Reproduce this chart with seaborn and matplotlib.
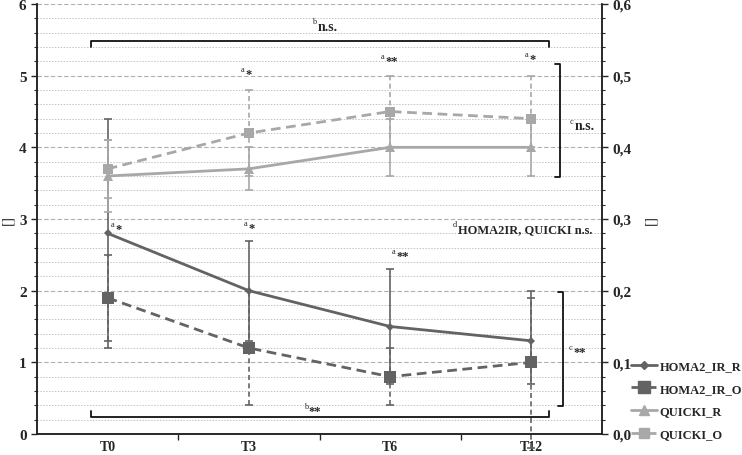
import numpy as np
import pandas as pd
import matplotlib
matplotlib.use('Agg')
import matplotlib.pyplot as plt
import seaborn as sns
from matplotlib.ticker import MultipleLocator, FuncFormatter
from matplotlib.lines import Line2D

times = ['T0', 'T3', 'T6', 'T12']

homa_r = [2.8, 2.0, 1.5, 1.3]
homa_r_lo = [1.2, 1.3, 0.7, 0.7]
homa_r_hi = [4.4, 2.7, 2.3, 2.0]

homa_o = [1.9, 1.2, 0.8, 1.0]
homa_o_lo = [1.3, 0.4, 0.4, -0.2]
homa_o_hi = [2.5, 2.0, 1.2, 1.9]

quicki_r = [0.36, 0.37, 0.40, 0.40]
quicki_r_lo = [0.31, 0.34, 0.36, 0.36]
quicki_r_hi = [0.41, 0.40, 0.44, 0.44]

quicki_o = [0.37, 0.42, 0.45, 0.44]
quicki_o_lo = [0.33, 0.36, 0.40, 0.40]
quicki_o_hi = [0.41, 0.48, 0.50, 0.50]

dark = '#636363'
light = '#a8a8a8'

sns.set_style('white')
plt.rcParams['font.family'] = ['Liberation Serif', 'DejaVu Serif']
plt.rcParams['font.weight'] = 'bold'

pos = np.arange(len(times))
df_homa = pd.DataFrame({'x': np.concatenate([pos, pos]),
                        'v': homa_r + homa_o,
                        's': ['HOMA2_IR_R'] * 4 + ['HOMA2_IR_O'] * 4})
df_q = pd.DataFrame({'x': np.concatenate([pos, pos]),
                     'v': quicki_r + quicki_o,
                     's': ['QUICKI_R'] * 4 + ['QUICKI_O'] * 4})

fig = plt.figure(figsize=(7.42, 4.56), dpi=100)
ax = fig.add_axes([37 / 742, 21 / 456, 565 / 742, 430 / 456])
ax2 = ax.twinx()

# grid
for v in np.arange(0.2, 6.0, 0.2):
    if abs(v - round(v)) < 1e-6:
        ax.axhline(v, color='#b0b0b0', lw=0.8, ls=(0, (4, 2)), zorder=0)
    else:
        ax.axhline(v, color='#c4c4c4', lw=0.7, ls=(0, (1.5, 1.5)), zorder=0)
ax.axhline(6, color='#b0b0b0', lw=0.8, ls=(0, (4, 2)), zorder=0)


def errbars(a, y, lo, hi, color, dashed):
    y = np.array(y)
    err = [y - np.array(lo), np.array(hi) - y]
    _, caps, bars = a.errorbar(pos, y, yerr=err, fmt='none', ecolor=color,
                               elinewidth=1.2, capsize=3, capthick=1.2, zorder=2)
    for c in caps:
        c.set_clip_on(False)
    for b in bars:
        b.set_clip_on(False)
        if dashed:
            b.set_linestyle((0, (3, 2)))


errbars(ax, homa_r, homa_r_lo, homa_r_hi, dark, False)
errbars(ax, homa_o, homa_o_lo, homa_o_hi, dark, True)
errbars(ax2, quicki_r, quicki_r_lo, quicki_r_hi, light, False)
errbars(ax2, quicki_o, quicki_o_lo, quicki_o_hi, light, True)

sns.lineplot(data=df_homa, x='x', y='v', hue='s', style='s', ax=ax,
             palette=[dark, dark], markers=['D', 's'], dashes=[(1, 0), (3.5, 2)],
             linewidth=2, markersize=6, markeredgewidth=0, legend=False, zorder=3)
sns.lineplot(data=df_q, x='x', y='v', hue='s', style='s', ax=ax2,
             palette=[light, light], markers=['^', 's'], dashes=[(1, 0), (3.5, 2)],
             linewidth=2, markersize=7, markeredgewidth=0, legend=False, zorder=3)
ax.lines[-1].set_markersize(8)
ax.lines[-2].set_markersize(4)

ax.set_xlim(-0.5, 3.5)
ax.set_ylim(0, 6)
ax2.set_ylim(0, 0.6)
ax.set_xticks(pos)
ax.set_xticklabels(times, fontsize=10, fontweight='bold')
ax.set_xticks([0.5, 1.5, 2.5], minor=True)
ax.tick_params(axis='x', which='major', length=0, pad=4)
ax.tick_params(axis='x', which='minor', length=4, width=1, direction='out', bottom=True)
ax.yaxis.set_major_locator(MultipleLocator(1))
ax.yaxis.set_minor_locator(MultipleLocator(0.2))
ax.tick_params(axis='y', which='major', length=4, width=1, labelsize=11, left=True)
ax.tick_params(axis='y', which='minor', length=2, width=0.8, left=True)
ax2.yaxis.set_major_locator(MultipleLocator(0.1))
ax2.yaxis.set_minor_locator(MultipleLocator(0.02))
ax2.yaxis.set_major_formatter(FuncFormatter(lambda v, p: f'{v:.1f}'.replace('.', ',')))
ax2.tick_params(axis='y', which='major', length=4, width=1, labelsize=11, right=True)
ax2.tick_params(axis='y', which='minor', length=2, width=0.8, right=True)
for t in ax.get_yticklabels() + ax2.get_yticklabels():
    t.set_fontweight('bold')
ax.set_xlabel('')
ax.set_ylabel('[]', fontsize=11)
ax.yaxis.set_label_coords(-23 / 565, 0.5)
ax2.set_ylabel('[]', fontsize=11)
ax2.yaxis.set_label_coords(1 + 42 / 565, 0.5)
ax2.set_xlabel('')
for a in (ax, ax2):
    a.spines['top'].set_visible(False)
    for s in ('left', 'right', 'bottom'):
        a.spines[s].set_color('#222222')
        a.spines[s].set_linewidth(1.1)

# significance brackets
k = dict(color='#111111', lw=1.3, clip_on=False, zorder=4)
ax.plot([-0.117, -0.117, 3.124, 3.124], [5.40, 5.48, 5.48, 5.40], **k)
ax.plot([-0.117, -0.117, 3.124, 3.124], [0.32, 0.24, 0.24, 0.32], **k)
ax.plot([3.17, 3.205, 3.205, 3.17], [5.16, 5.16, 3.59, 3.59], **k)
ax.plot([3.19, 3.225, 3.225, 3.19], [1.98, 1.98, 0.39, 0.39], **k)


def label(x, y, sup, main, size=10):
    ax.text(x, y + 0.07, sup, fontsize=6, fontweight='normal', ha='right', va='center', zorder=5)
    ax.text(x + 0.005, y, main, fontsize=size, fontweight='bold', ha='left', va='center', zorder=5)


label(1.48, 5.69, 'b', 'n.s.')
label(1.42, 0.32, 'b', '**', size=9)
label(3.30, 4.30, 'c', 'n.s.')
label(3.29, 1.14, 'c', '**', size=9)
label(0.97, 5.02, 'a', '*', size=9)
label(1.96, 5.21, 'a', '**', size=9)
label(2.98, 5.23, 'a', '*', size=9)
label(0.05, 2.86, 'a', '*', size=9)
label(0.99, 2.87, 'a', '*', size=9)
label(2.04, 2.49, 'a', '**', size=9)
label(2.475, 2.86, 'd', 'HOMA2IR, QUICKI n.s.', size=9)

handles = [
    Line2D([], [], color=dark, lw=2, marker='D', markersize=4),
    Line2D([], [], color=dark, lw=2, ls=(0, (3.5, 2)), marker='s', markersize=8),
    Line2D([], [], color=light, lw=2, marker='^', markersize=7),
    Line2D([], [], color=light, lw=2, ls=(0, (3.5, 2)), marker='s', markersize=7),
]
fig.legend(handles, ['HOMA2_IR_R', 'HOMA2_IR_O', 'QUICKI_R', 'QUICKI_O'],
           loc='lower left', bbox_to_anchor=(631 / 742, 15 / 456), frameon=False,
           prop={'family': 'Liberation Serif', 'weight': 'bold', 'size': 9},
           handlelength=2.1, handletextpad=0.2, labelspacing=0.85, borderpad=0, borderaxespad=0)

fig.savefig('out.png', dpi=100)
